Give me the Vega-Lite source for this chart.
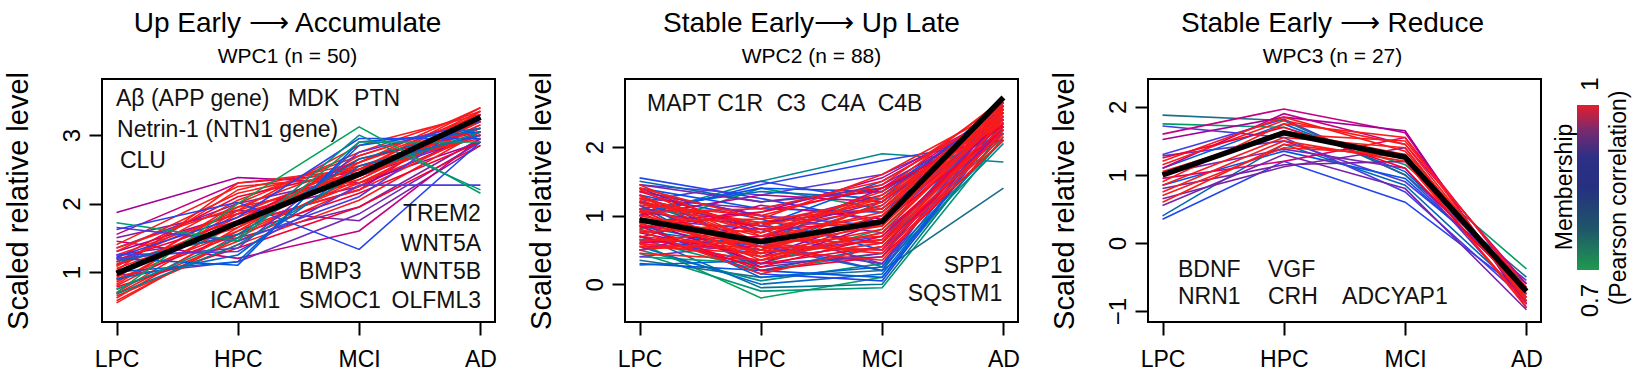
{
  "$schema": "https://vega.github.io/schema/vega-lite/v6.json",
  "background": "white",
  "padding": {"left": 2, "top": 8, "right": 0, "bottom": 0},
  "bounds": "flush",
  "spacing": 130,
  "config": {
    "font": "Liberation Sans",
    "view": {"stroke": "#000", "strokeWidth": 2},
    "axis": {"domain": false, "grid": false, "tickColor": "#000", "tickWidth": 2, "tickSize": 13, "labelColor": "#000", "labelFontSize": 23, "labelFont": "Liberation Sans", "titleFont": "Liberation Sans", "titleColor": "#000", "titleFontWeight": "normal", "labelOverlap": false},
    "title": {"font": "Liberation Sans", "fontSize": 28, "fontWeight": "normal", "color": "#000", "subtitleFont": "Liberation Sans", "subtitleFontSize": 21, "subtitleColor": "#000", "subtitlePadding": 8, "offset": 5, "anchor": "middle"}
  },
  "datasets": {
    "genes": [
      {"p":1,"g":"a29","m":0.91,"LPC":1.87,"HPC":2.38,"MCI":2.30,"AD":2.90},
      {"p":1,"g":"a30","m":0.90,"LPC":1.50,"HPC":1.90,"MCI":1.75,"AD":2.85},
      {"p":1,"g":"a31","m":0.92,"LPC":1.45,"HPC":1.20,"MCI":1.60,"AD":2.95},
      {"p":1,"g":"a32","m":0.89,"LPC":1.35,"HPC":2.00,"MCI":2.40,"AD":3.00},
      {"p":1,"g":"a33","m":0.93,"LPC":1.10,"HPC":1.70,"MCI":2.20,"AD":3.35},
      {"p":1,"g":"a34","m":0.90,"LPC":1.25,"HPC":1.50,"MCI":1.95,"AD":2.95},
      {"p":1,"g":"a35","m":0.92,"LPC":1.55,"HPC":2.30,"MCI":2.45,"AD":3.20},
      {"p":1,"g":"a36","m":0.88,"LPC":0.95,"HPC":1.15,"MCI":1.85,"AD":2.90},
      {"p":1,"g":"a37","m":0.91,"LPC":1.30,"HPC":1.85,"MCI":2.25,"AD":3.05},
      {"p":1,"g":"a1","m":0.99,"LPC":0.55,"HPC":1.55,"MCI":2.35,"AD":3.20},
      {"p":1,"g":"a2","m":0.98,"LPC":0.62,"HPC":1.65,"MCI":2.45,"AD":3.30},
      {"p":1,"g":"a3","m":0.97,"LPC":0.70,"HPC":1.75,"MCI":2.50,"AD":3.35},
      {"p":1,"g":"a4","m":0.99,"LPC":0.80,"HPC":1.70,"MCI":2.40,"AD":3.25},
      {"p":1,"g":"a5","m":0.96,"LPC":0.85,"HPC":1.85,"MCI":2.55,"AD":3.10},
      {"p":1,"g":"a6","m":0.98,"LPC":0.90,"HPC":1.60,"MCI":2.30,"AD":3.15},
      {"p":1,"g":"a7","m":0.97,"LPC":0.95,"HPC":1.95,"MCI":2.60,"AD":3.30},
      {"p":1,"g":"a8","m":0.99,"LPC":1.00,"HPC":1.80,"MCI":2.50,"AD":3.40},
      {"p":1,"g":"a9","m":0.96,"LPC":1.05,"HPC":1.70,"MCI":2.20,"AD":3.05},
      {"p":1,"g":"a10","m":0.98,"LPC":1.10,"HPC":2.05,"MCI":2.70,"AD":3.25},
      {"p":1,"g":"a11","m":0.97,"LPC":1.15,"HPC":1.90,"MCI":2.45,"AD":3.00},
      {"p":1,"g":"a12","m":0.95,"LPC":1.20,"HPC":2.10,"MCI":2.50,"AD":3.10},
      {"p":1,"g":"a13","m":0.99,"LPC":1.25,"HPC":1.85,"MCI":2.35,"AD":3.20},
      {"p":1,"g":"a14","m":0.96,"LPC":1.30,"HPC":2.15,"MCI":2.55,"AD":2.95},
      {"p":1,"g":"a15","m":0.98,"LPC":0.75,"HPC":1.45,"MCI":2.25,"AD":3.30},
      {"p":1,"g":"a16","m":0.97,"LPC":0.65,"HPC":1.40,"MCI":2.05,"AD":3.05},
      {"p":1,"g":"a17","m":0.95,"LPC":0.88,"HPC":1.55,"MCI":2.15,"AD":2.90},
      {"p":1,"g":"a18","m":0.99,"LPC":0.92,"HPC":2.00,"MCI":2.75,"AD":3.35},
      {"p":1,"g":"a19","m":0.96,"LPC":1.08,"HPC":2.20,"MCI":2.60,"AD":3.20},
      {"p":1,"g":"a20","m":0.98,"LPC":1.35,"HPC":1.95,"MCI":2.30,"AD":3.00},
      {"p":1,"g":"a21","m":0.97,"LPC":0.58,"HPC":1.50,"MCI":2.40,"AD":3.15},
      {"p":1,"g":"a22","m":0.95,"LPC":1.18,"HPC":1.75,"MCI":2.65,"AD":3.05},
      {"p":1,"g":"a23","m":0.99,"LPC":0.82,"HPC":1.90,"MCI":2.85,"AD":3.30},
      {"p":1,"g":"a24","m":0.96,"LPC":1.40,"HPC":2.25,"MCI":2.40,"AD":3.10},
      {"p":1,"g":"a25","m":0.98,"LPC":0.68,"HPC":1.60,"MCI":2.60,"AD":3.40},
      {"p":1,"g":"a26","m":0.97,"LPC":1.02,"HPC":2.30,"MCI":2.50,"AD":3.00},
      {"p":1,"g":"a27","m":0.95,"LPC":0.78,"HPC":1.35,"MCI":1.95,"AD":2.85},
      {"p":1,"g":"a28","m":0.99,"LPC":1.12,"HPC":1.65,"MCI":2.70,"AD":3.25},
      {"p":1,"g":"a38","m":0.84,"LPC":1.62,"HPC":2.02,"MCI":1.33,"AD":2.90},
      {"p":1,"g":"a39","m":0.83,"LPC":1.20,"HPC":1.10,"MCI":2.90,"AD":3.05},
      {"p":1,"g":"a40","m":0.85,"LPC":1.25,"HPC":1.30,"MCI":2.27,"AD":2.27},
      {"p":1,"g":"a41","m":0.82,"LPC":1.00,"HPC":1.15,"MCI":2.85,"AD":3.10},
      {"p":1,"g":"a42","m":0.86,"LPC":1.20,"HPC":1.35,"MCI":2.75,"AD":3.20},
      {"p":1,"g":"a43","m":0.81,"LPC":0.90,"HPC":1.25,"MCI":2.55,"AD":3.00},
      {"p":1,"g":"a44","m":0.84,"LPC":1.22,"HPC":1.80,"MCI":2.95,"AD":2.95},
      {"p":1,"g":"a45","m":0.80,"LPC":1.15,"HPC":1.55,"MCI":2.65,"AD":3.10},
      {"p":1,"g":"a46","m":0.85,"LPC":1.65,"HPC":1.45,"MCI":2.10,"AD":3.30},
      {"p":1,"g":"a47","m":0.72,"LPC":1.72,"HPC":1.46,"MCI":2.90,"AD":2.90},
      {"p":1,"g":"a48","m":0.71,"LPC":0.70,"HPC":2.00,"MCI":3.12,"AD":2.15},
      {"p":1,"g":"a49","m":0.74,"LPC":0.75,"HPC":1.50,"MCI":3.00,"AD":2.20},
      {"p":1,"g":"a50","m":0.76,"LPC":0.68,"HPC":1.40,"MCI":2.45,"AD":3.05},

      {"p":2,"g":"b77","m":0.71,"LPC":0.60,"HPC":-0.20,"MCI":0.10,"AD":2.20},
      {"p":2,"g":"b78","m":0.73,"LPC":0.45,"HPC":-0.10,"MCI":-0.05,"AD":2.15},
      {"p":2,"g":"b79","m":0.75,"LPC":1.00,"HPC":1.50,"MCI":1.90,"AD":1.78},
      {"p":2,"g":"b80","m":0.78,"LPC":0.35,"HPC":0.10,"MCI":0.20,"AD":1.40},
      {"p":2,"g":"b81","m":0.72,"LPC":0.80,"HPC":1.40,"MCI":1.10,"AD":2.30},
      {"p":2,"g":"b82","m":0.74,"LPC":0.50,"HPC":0.05,"MCI":0.30,"AD":2.10},
      {"p":2,"g":"b83","m":0.76,"LPC":1.20,"HPC":0.60,"MCI":1.40,"AD":2.35},
      {"p":2,"g":"b84","m":0.77,"LPC":0.70,"HPC":-0.05,"MCI":0.00,"AD":2.25},
      {"p":2,"g":"b85","m":0.72,"LPC":0.40,"HPC":0.30,"MCI":0.80,"AD":2.40},
      {"p":2,"g":"b86","m":0.75,"LPC":1.10,"HPC":0.90,"MCI":0.25,"AD":2.05},
      {"p":2,"g":"b87","m":0.79,"LPC":0.85,"HPC":0.50,"MCI":1.20,"AD":2.50},
      {"p":2,"g":"b88","m":0.73,"LPC":0.65,"HPC":0.20,"MCI":0.45,"AD":2.30},
      {"p":2,"g":"b54","m":0.84,"LPC":1.55,"HPC":1.25,"MCI":0.90,"AD":2.50},
      {"p":2,"g":"b55","m":0.83,"LPC":0.30,"HPC":0.20,"MCI":0.10,"AD":2.35},
      {"p":2,"g":"b56","m":0.85,"LPC":1.20,"HPC":1.50,"MCI":1.20,"AD":2.45},
      {"p":2,"g":"b57","m":0.82,"LPC":0.90,"HPC":0.10,"MCI":0.25,"AD":2.60},
      {"p":2,"g":"b58","m":0.86,"LPC":1.45,"HPC":1.30,"MCI":1.60,"AD":2.40},
      {"p":2,"g":"b59","m":0.81,"LPC":0.55,"HPC":0.00,"MCI":0.15,"AD":2.30},
      {"p":2,"g":"b60","m":0.84,"LPC":1.00,"HPC":1.45,"MCI":1.80,"AD":2.10},
      {"p":2,"g":"b61","m":0.83,"LPC":1.30,"HPC":0.95,"MCI":0.50,"AD":2.55},
      {"p":2,"g":"b62","m":0.85,"LPC":0.70,"HPC":0.30,"MCI":0.40,"AD":2.45},
      {"p":2,"g":"b63","m":0.80,"LPC":1.50,"HPC":1.20,"MCI":1.40,"AD":2.20},
      {"p":2,"g":"b64","m":0.86,"LPC":0.40,"HPC":0.60,"MCI":0.20,"AD":2.60},
      {"p":2,"g":"b65","m":0.82,"LPC":1.25,"HPC":0.85,"MCI":1.50,"AD":2.50},
      {"p":2,"g":"b66","m":0.84,"LPC":0.85,"HPC":0.15,"MCI":0.05,"AD":2.35},
      {"p":2,"g":"b67","m":0.81,"LPC":1.10,"HPC":1.35,"MCI":1.25,"AD":2.65},
      {"p":2,"g":"b68","m":0.85,"LPC":0.65,"HPC":0.45,"MCI":0.70,"AD":2.30},
      {"p":2,"g":"b69","m":0.83,"LPC":1.40,"HPC":1.10,"MCI":1.05,"AD":2.40},
      {"p":2,"g":"b70","m":0.82,"LPC":0.28,"HPC":0.35,"MCI":0.60,"AD":2.55},
      {"p":2,"g":"b71","m":0.86,"LPC":0.95,"HPC":0.80,"MCI":0.30,"AD":2.45},
      {"p":2,"g":"b72","m":0.80,"LPC":1.15,"HPC":0.20,"MCI":0.55,"AD":2.25},
      {"p":2,"g":"b73","m":0.84,"LPC":0.50,"HPC":0.70,"MCI":1.15,"AD":2.60},
      {"p":2,"g":"b74","m":0.85,"LPC":1.35,"HPC":1.00,"MCI":0.85,"AD":2.50},
      {"p":2,"g":"b75","m":0.81,"LPC":0.78,"HPC":0.55,"MCI":0.20,"AD":2.35},
      {"p":2,"g":"b76","m":0.83,"LPC":1.05,"HPC":1.40,"MCI":1.35,"AD":2.55},
      {"p":2,"g":"b36","m":0.92,"LPC":1.00,"HPC":1.30,"MCI":1.20,"AD":2.55},
      {"p":2,"g":"b37","m":0.90,"LPC":1.20,"HPC":0.85,"MCI":0.60,"AD":2.45},
      {"p":2,"g":"b38","m":0.91,"LPC":0.75,"HPC":0.40,"MCI":1.00,"AD":2.60},
      {"p":2,"g":"b39","m":0.89,"LPC":1.45,"HPC":1.20,"MCI":1.35,"AD":2.40},
      {"p":2,"g":"b40","m":0.93,"LPC":0.60,"HPC":0.70,"MCI":0.85,"AD":2.65},
      {"p":2,"g":"b41","m":0.88,"LPC":1.30,"HPC":0.55,"MCI":0.30,"AD":2.35},
      {"p":2,"g":"b42","m":0.92,"LPC":0.90,"HPC":1.05,"MCI":1.55,"AD":2.50},
      {"p":2,"g":"b43","m":0.90,"LPC":1.10,"HPC":0.25,"MCI":0.45,"AD":2.30},
      {"p":2,"g":"b44","m":0.91,"LPC":0.50,"HPC":0.90,"MCI":1.10,"AD":2.60},
      {"p":2,"g":"b45","m":0.89,"LPC":1.35,"HPC":1.00,"MCI":0.75,"AD":2.20},
      {"p":2,"g":"b46","m":0.93,"LPC":0.85,"HPC":0.65,"MCI":1.40,"AD":2.55},
      {"p":2,"g":"b47","m":0.88,"LPC":1.15,"HPC":0.45,"MCI":0.65,"AD":2.45},
      {"p":2,"g":"b48","m":0.92,"LPC":0.68,"HPC":1.15,"MCI":0.95,"AD":2.35},
      {"p":2,"g":"b49","m":0.90,"LPC":1.40,"HPC":0.75,"MCI":1.20,"AD":2.50},
      {"p":2,"g":"b50","m":0.91,"LPC":0.95,"HPC":0.30,"MCI":0.90,"AD":2.65},
      {"p":2,"g":"b51","m":0.89,"LPC":1.25,"HPC":1.10,"MCI":1.45,"AD":2.40},
      {"p":2,"g":"b52","m":0.93,"LPC":0.55,"HPC":0.55,"MCI":0.50,"AD":2.25},
      {"p":2,"g":"b53","m":0.90,"LPC":1.05,"HPC":0.85,"MCI":1.30,"AD":2.55},
      {"p":2,"g":"b1","m":0.99,"LPC":0.95,"HPC":0.55,"MCI":0.85,"AD":2.65},
      {"p":2,"g":"b2","m":0.98,"LPC":1.10,"HPC":0.70,"MCI":1.00,"AD":2.55},
      {"p":2,"g":"b3","m":0.97,"LPC":0.80,"HPC":0.40,"MCI":0.75,"AD":2.45},
      {"p":2,"g":"b4","m":0.99,"LPC":1.25,"HPC":0.85,"MCI":1.20,"AD":2.60},
      {"p":2,"g":"b5","m":0.96,"LPC":0.60,"HPC":0.35,"MCI":0.60,"AD":2.30},
      {"p":2,"g":"b6","m":0.98,"LPC":1.40,"HPC":0.95,"MCI":1.10,"AD":2.50},
      {"p":2,"g":"b7","m":0.97,"LPC":0.70,"HPC":0.50,"MCI":0.95,"AD":2.40},
      {"p":2,"g":"b8","m":0.95,"LPC":1.05,"HPC":0.30,"MCI":0.55,"AD":2.20},
      {"p":2,"g":"b9","m":0.99,"LPC":0.90,"HPC":0.75,"MCI":1.35,"AD":2.70},
      {"p":2,"g":"b10","m":0.96,"LPC":1.30,"HPC":0.60,"MCI":0.70,"AD":2.35},
      {"p":2,"g":"b11","m":0.98,"LPC":0.55,"HPC":0.45,"MCI":0.80,"AD":2.50},
      {"p":2,"g":"b12","m":0.97,"LPC":1.15,"HPC":1.00,"MCI":1.45,"AD":2.65},
      {"p":2,"g":"b13","m":0.95,"LPC":0.85,"HPC":0.20,"MCI":0.40,"AD":2.10},
      {"p":2,"g":"b14","m":0.99,"LPC":1.00,"HPC":0.65,"MCI":1.05,"AD":2.60},
      {"p":2,"g":"b15","m":0.96,"LPC":0.75,"HPC":0.90,"MCI":1.25,"AD":2.45},
      {"p":2,"g":"b16","m":0.98,"LPC":1.20,"HPC":0.40,"MCI":0.65,"AD":2.30},
      {"p":2,"g":"b17","m":0.97,"LPC":0.65,"HPC":0.60,"MCI":1.15,"AD":2.55},
      {"p":2,"g":"b18","m":0.95,"LPC":1.35,"HPC":0.80,"MCI":0.90,"AD":2.25},
      {"p":2,"g":"b19","m":0.99,"LPC":0.45,"HPC":0.35,"MCI":0.95,"AD":2.65},
      {"p":2,"g":"b20","m":0.96,"LPC":1.05,"HPC":1.10,"MCI":1.50,"AD":2.50},
      {"p":2,"g":"b21","m":0.98,"LPC":0.88,"HPC":0.55,"MCI":0.50,"AD":2.15},
      {"p":2,"g":"b22","m":0.97,"LPC":1.45,"HPC":0.70,"MCI":1.30,"AD":2.40},
      {"p":2,"g":"b23","m":0.95,"LPC":0.70,"HPC":0.25,"MCI":0.70,"AD":2.35},
      {"p":2,"g":"b24","m":0.99,"LPC":1.18,"HPC":0.90,"MCI":0.85,"AD":2.55},
      {"p":2,"g":"b25","m":0.96,"LPC":0.95,"HPC":0.45,"MCI":1.20,"AD":2.60},
      {"p":2,"g":"b26","m":0.98,"LPC":0.50,"HPC":0.65,"MCI":0.60,"AD":2.20},
      {"p":2,"g":"b27","m":0.97,"LPC":1.28,"HPC":0.50,"MCI":1.00,"AD":2.45},
      {"p":2,"g":"b28","m":0.95,"LPC":0.82,"HPC":1.05,"MCI":1.40,"AD":2.30},
      {"p":2,"g":"b29","m":0.99,"LPC":1.08,"HPC":0.35,"MCI":0.75,"AD":2.50},
      {"p":2,"g":"b30","m":0.96,"LPC":0.62,"HPC":0.80,"MCI":1.10,"AD":2.65},
      {"p":2,"g":"b31","m":0.98,"LPC":1.38,"HPC":0.60,"MCI":0.45,"AD":2.10},
      {"p":2,"g":"b32","m":0.97,"LPC":0.92,"HPC":0.95,"MCI":1.60,"AD":2.55},
      {"p":2,"g":"b33","m":0.96,"LPC":0.78,"HPC":0.15,"MCI":0.55,"AD":2.40},
      {"p":2,"g":"b34","m":0.98,"LPC":1.22,"HPC":0.75,"MCI":1.25,"AD":2.35},
      {"p":2,"g":"b35","m":0.97,"LPC":0.58,"HPC":0.50,"MCI":0.35,"AD":2.25},

      {"p":3,"g":"c18","m":0.85,"LPC":1.30,"HPC":1.82,"MCI":1.00,"AD":-0.70},
      {"p":3,"g":"c19","m":0.84,"LPC":0.35,"HPC":1.20,"MCI":0.60,"AD":-0.75},
      {"p":3,"g":"c20","m":0.86,"LPC":1.28,"HPC":1.50,"MCI":0.90,"AD":-0.55},
      {"p":3,"g":"c21","m":0.83,"LPC":0.85,"HPC":1.35,"MCI":0.95,"AD":-0.65},
      {"p":3,"g":"c22","m":0.82,"LPC":1.10,"HPC":1.75,"MCI":1.05,"AD":-0.60},
      {"p":3,"g":"c23","m":0.80,"LPC":0.40,"HPC":1.45,"MCI":0.85,"AD":-0.80},
      {"p":3,"g":"c24","m":0.78,"LPC":1.88,"HPC":1.80,"MCI":1.00,"AD":-0.50},
      {"p":3,"g":"c25","m":0.72,"LPC":1.75,"HPC":1.70,"MCI":1.15,"AD":-0.38},
      {"p":3,"g":"c26","m":0.85,"LPC":1.72,"HPC":1.55,"MCI":0.75,"AD":-0.85},
      {"p":3,"g":"c27","m":0.88,"LPC":1.02,"HPC":1.38,"MCI":1.10,"AD":-0.88},
      {"p":3,"g":"c11","m":0.92,"LPC":1.60,"HPC":1.97,"MCI":1.62,"AD":-0.90},
      {"p":3,"g":"c12","m":0.91,"LPC":1.52,"HPC":1.85,"MCI":1.65,"AD":-0.95},
      {"p":3,"g":"c13","m":0.90,"LPC":0.65,"HPC":1.12,"MCI":1.40,"AD":-0.85},
      {"p":3,"g":"c14","m":0.93,"LPC":0.95,"HPC":1.20,"MCI":1.55,"AD":-0.70},
      {"p":3,"g":"c15","m":0.89,"LPC":0.55,"HPC":1.30,"MCI":0.80,"AD":-0.98},
      {"p":3,"g":"c16","m":0.92,"LPC":1.10,"HPC":1.90,"MCI":1.45,"AD":-0.60},
      {"p":3,"g":"c17","m":0.90,"LPC":0.80,"HPC":1.15,"MCI":1.20,"AD":-0.75},
      {"p":3,"g":"c1","m":0.99,"LPC":1.00,"HPC":1.65,"MCI":1.30,"AD":-0.75},
      {"p":3,"g":"c2","m":0.98,"LPC":1.15,"HPC":1.80,"MCI":1.45,"AD":-0.80},
      {"p":3,"g":"c3","m":0.97,"LPC":0.85,"HPC":1.55,"MCI":1.40,"AD":-0.85},
      {"p":3,"g":"c4","m":0.99,"LPC":1.20,"HPC":1.85,"MCI":1.35,"AD":-0.70},
      {"p":3,"g":"c5","m":0.96,"LPC":0.75,"HPC":1.50,"MCI":1.20,"AD":-0.90},
      {"p":3,"g":"c6","m":0.98,"LPC":1.05,"HPC":1.60,"MCI":1.50,"AD":-0.65},
      {"p":3,"g":"c7","m":0.97,"LPC":0.60,"HPC":1.45,"MCI":1.25,"AD":-0.95},
      {"p":3,"g":"c8","m":0.95,"LPC":1.25,"HPC":1.70,"MCI":1.10,"AD":-0.75},
      {"p":3,"g":"c9","m":0.99,"LPC":0.90,"HPC":1.75,"MCI":1.55,"AD":-0.85},
      {"p":3,"g":"c10","m":0.96,"LPC":0.70,"HPC":1.40,"MCI":1.30,"AD":-0.80}
    ],
    "means": [
      {"p":1,"LPC":0.98,"HPC":1.72,"MCI":2.43,"AD":3.26},
      {"p":2,"LPC":0.94,"HPC":0.62,"MCI":0.91,"AD":2.72},
      {"p":3,"LPC":1.00,"HPC":1.62,"MCI":1.26,"AD":-0.71}
    ],
    "labels": [
      {"p":1,"t":"Aβ (APP gene)","x":0.995,"v":3.53},
      {"p":1,"t":"MDK","x":2.413,"v":3.53},
      {"p":1,"t":"PTN","x":2.958,"v":3.53},
      {"p":1,"t":"Netrin-1 (NTN1 gene)","x":1.004,"v":3.075},
      {"p":1,"t":"CLU","x":1.028,"v":2.62},
      {"p":1,"t":"TREM2","x":3.361,"v":1.85},
      {"p":1,"t":"WNT5A","x":3.341,"v":1.41},
      {"p":1,"t":"WNT5B","x":3.341,"v":1.0},
      {"p":1,"t":"BMP3","x":2.504,"v":1.0},
      {"p":1,"t":"ICAM1","x":1.77,"v":0.58},
      {"p":1,"t":"SMOC1","x":2.504,"v":0.58},
      {"p":1,"t":"OLFML3","x":3.267,"v":0.58},
      {"p":2,"t":"MAPT","x":1.062,"v":2.625},
      {"p":2,"t":"C1R","x":1.64,"v":2.625},
      {"p":2,"t":"C3","x":2.128,"v":2.625},
      {"p":2,"t":"C4A","x":2.492,"v":2.625},
      {"p":2,"t":"C4B","x":2.963,"v":2.625},
      {"p":2,"t":"SPP1","x":3.508,"v":0.26},
      {"p":2,"t":"SQSTM1","x":3.211,"v":-0.149},
      {"p":3,"t":"BDNF","x":1.127,"v":-0.40},
      {"p":3,"t":"VGF","x":1.869,"v":-0.40},
      {"p":3,"t":"NRN1","x":1.127,"v":-0.796},
      {"p":3,"t":"CRH","x":1.869,"v":-0.796},
      {"p":3,"t":"ADCYAP1","x":2.48,"v":-0.796}
    ]
  },
  "hconcat": [
    {
      "width": 393, "height": 243,
      "title": {"text": "Up Early ⟶ Accumulate", "subtitle": "WPC1 (n = 50)", "dx": -11},
      "resolve": {"scale": {"x": "independent"}},
      "layer": [
        {
          "data": {"name": "genes"},
          "transform": [{"filter": "datum.p == 1"}, {"fold": ["LPC", "HPC", "MCI", "AD"], "as": ["stage", "v"]}],
          "mark": {"type": "line", "strokeWidth": 1.6},
          "encoding": {
            "x": {"field": "stage", "type": "ordinal", "sort": ["LPC", "HPC", "MCI", "AD"], "scale": {"type": "point", "padding": 0.12}, "axis": {"title": null, "labelAngle": 0, "labelPadding": 13}},
            "y": {"field": "v", "type": "quantitative", "scale": {"domain": [0.27, 3.82], "nice": false, "zero": false}, "axis": {"title": "Scaled relative level", "values": [1, 2, 3], "format": "d", "labelAngle": -90, "labelAlign": "center", "labelBaseline": "alphabetic", "labelPadding": 10, "labelFontSize": 24, "titleAngle": -90, "titleX": -75, "titleY": 121.5, "titleAlign": "center", "titleBaseline": "alphabetic", "titleFontSize": 29}},
            "color": {"field": "m", "type": "quantitative", "scale": {"domain": [0.7, 0.78, 0.84, 0.9, 0.955], "range": ["#1fa845", "#1a6e8a", "#2244f0", "#7a22a0", "#f81c1c"], "clamp": true}, "legend": null},
            "detail": {"field": "g"},
            "order": {"value": null}
          }
        },
        {
          "data": {"name": "means"},
          "transform": [{"filter": "datum.p == 1"}, {"fold": ["LPC", "HPC", "MCI", "AD"], "as": ["stage", "v"]}],
          "mark": {"type": "line", "strokeWidth": 5.5, "color": "#000"},
          "encoding": {
            "x": {"field": "stage", "type": "ordinal", "sort": ["LPC", "HPC", "MCI", "AD"], "scale": {"type": "point", "padding": 0.12}, "axis": null},
            "y": {"field": "v", "type": "quantitative", "scale": {"domain": [0.27, 3.82], "nice": false, "zero": false}},
            "order": {"value": null}
          }
        },
        {
          "data": {"name": "labels"},
          "transform": [{"filter": "datum.p == 1"}],
          "mark": {"type": "text", "align": "left", "baseline": "middle", "fontSize": 23, "color": "#111"},
          "encoding": {
            "x": {"field": "x", "type": "quantitative", "scale": {"domain": [0.88, 4.12], "nice": false, "zero": false}, "axis": null},
            "y": {"field": "v", "type": "quantitative", "scale": {"domain": [0.27, 3.82], "nice": false, "zero": false}},
            "text": {"field": "t"}
          }
        }
      ]
    },
    {
      "width": 393, "height": 243,
      "title": {"text": "Stable Early⟶ Up Late", "subtitle": "WPC2 (n = 88)", "dx": -10},
      "resolve": {"scale": {"x": "independent"}},
      "layer": [
        {
          "data": {"name": "genes"},
          "transform": [{"filter": "datum.p == 2"}, {"fold": ["LPC", "HPC", "MCI", "AD"], "as": ["stage", "v"]}],
          "mark": {"type": "line", "strokeWidth": 1.6},
          "encoding": {
            "x": {"field": "stage", "type": "ordinal", "sort": ["LPC", "HPC", "MCI", "AD"], "scale": {"type": "point", "padding": 0.12}, "axis": {"title": null, "labelAngle": 0, "labelPadding": 13}},
            "y": {"field": "v", "type": "quantitative", "scale": {"domain": [-0.55, 2.99], "nice": false, "zero": false}, "axis": {"title": "Scaled relative level", "values": [0, 1, 2], "format": "d", "labelAngle": -90, "labelAlign": "center", "labelBaseline": "alphabetic", "labelPadding": 10, "labelFontSize": 24, "titleAngle": -90, "titleX": -75, "titleY": 121.5, "titleAlign": "center", "titleBaseline": "alphabetic", "titleFontSize": 29}},
            "color": {"field": "m", "type": "quantitative", "scale": {"domain": [0.7, 0.78, 0.84, 0.9, 0.955], "range": ["#1fa845", "#1a6e8a", "#2244f0", "#7a22a0", "#f81c1c"], "clamp": true}, "legend": null},
            "detail": {"field": "g"},
            "order": {"value": null}
          }
        },
        {
          "data": {"name": "means"},
          "transform": [{"filter": "datum.p == 2"}, {"fold": ["LPC", "HPC", "MCI", "AD"], "as": ["stage", "v"]}],
          "mark": {"type": "line", "strokeWidth": 5.5, "color": "#000"},
          "encoding": {
            "x": {"field": "stage", "type": "ordinal", "sort": ["LPC", "HPC", "MCI", "AD"], "scale": {"type": "point", "padding": 0.12}, "axis": null},
            "y": {"field": "v", "type": "quantitative", "scale": {"domain": [-0.55, 2.99], "nice": false, "zero": false}},
            "order": {"value": null}
          }
        },
        {
          "data": {"name": "labels"},
          "transform": [{"filter": "datum.p == 2"}],
          "mark": {"type": "text", "align": "left", "baseline": "middle", "fontSize": 23, "color": "#111"},
          "encoding": {
            "x": {"field": "x", "type": "quantitative", "scale": {"domain": [0.88, 4.12], "nice": false, "zero": false}, "axis": null},
            "y": {"field": "v", "type": "quantitative", "scale": {"domain": [-0.55, 2.99], "nice": false, "zero": false}},
            "text": {"field": "t"}
          }
        }
      ]
    },
    {
      "bounds": "flush",
      "spacing": 0,
      "hconcat": [
        {
          "width": 393, "height": 243,
          "title": {"text": "Stable Early ⟶ Reduce", "subtitle": "WPC3 (n = 27)", "dx": -12},
          "resolve": {"scale": {"x": "independent"}},
          "layer": [
            {
              "data": {"name": "genes"},
              "transform": [{"filter": "datum.p == 3"}, {"fold": ["LPC", "HPC", "MCI", "AD"], "as": ["stage", "v"]}],
              "mark": {"type": "line", "strokeWidth": 1.6},
              "encoding": {
                "x": {"field": "stage", "type": "ordinal", "sort": ["LPC", "HPC", "MCI", "AD"], "scale": {"type": "point", "padding": 0.12}, "axis": {"title": null, "labelAngle": 0, "labelPadding": 13}},
                "y": {"field": "v", "type": "quantitative", "scale": {"domain": [-1.16, 2.41], "nice": false, "zero": false}, "axis": {"title": "Scaled relative level", "values": [-1, 0, 1, 2], "format": "d", "labelAngle": -90, "labelAlign": "center", "labelBaseline": "alphabetic", "labelPadding": 10, "labelFontSize": 24, "titleAngle": -90, "titleX": -75, "titleY": 121.5, "titleAlign": "center", "titleBaseline": "alphabetic", "titleFontSize": 29}},
                "color": {"field": "m", "type": "quantitative", "scale": {"domain": [0.7, 0.78, 0.84, 0.9, 0.955], "range": ["#1fa845", "#1a6e8a", "#2244f0", "#7a22a0", "#f81c1c"], "clamp": true}, "legend": null},
                "detail": {"field": "g"},
                "order": {"value": null}
              }
            },
            {
              "data": {"name": "means"},
              "transform": [{"filter": "datum.p == 3"}, {"fold": ["LPC", "HPC", "MCI", "AD"], "as": ["stage", "v"]}],
              "mark": {"type": "line", "strokeWidth": 5.5, "color": "#000"},
              "encoding": {
                "x": {"field": "stage", "type": "ordinal", "sort": ["LPC", "HPC", "MCI", "AD"], "scale": {"type": "point", "padding": 0.12}, "axis": null},
                "y": {"field": "v", "type": "quantitative", "scale": {"domain": [-1.16, 2.41], "nice": false, "zero": false}},
                "order": {"value": null}
              }
            },
            {
              "data": {"name": "labels"},
              "transform": [{"filter": "datum.p == 3"}],
              "mark": {"type": "text", "align": "left", "baseline": "middle", "fontSize": 23, "color": "#111"},
              "encoding": {
                "x": {"field": "x", "type": "quantitative", "scale": {"domain": [0.88, 4.12], "nice": false, "zero": false}, "axis": null},
                "y": {"field": "v", "type": "quantitative", "scale": {"domain": [-1.16, 2.41], "nice": false, "zero": false}},
                "text": {"field": "t"}
              }
            }
          ]
        },
        {
          "width": 100, "height": 243,
          "view": {"stroke": null},
          "data": {"values": [{"lo": 0.7, "hi": 1.0}]},
          "layer": [
            {
              "mark": {"type": "rect", "color": {"gradient": "linear", "x1": 0, "y1": 1, "x2": 0, "y2": 0, "stops": [
                {"offset": 0, "color": "#1f9a50"},
                {"offset": 0.25, "color": "#1f556a"},
                {"offset": 0.5, "color": "#263080"},
                {"offset": 0.68, "color": "#2c2f86"},
                {"offset": 0.85, "color": "#7a2a6e"},
                {"offset": 1, "color": "#e41e2c"}
              ]}},
              "encoding": {
                "x": {"datum": 36, "type": "quantitative", "scale": {"domain": [0, 100], "nice": false, "zero": false}, "axis": null},
                "x2": {"datum": 58},
                "y": {"field": "lo", "type": "quantitative", "scale": {"domain": [0.6055, 1.0473], "nice": false, "zero": false}, "axis": null},
                "y2": {"field": "hi"}
              }
            },
            {
              "mark": {"type": "text", "text": "1", "angle": 270, "align": "center", "baseline": "alphabetic", "fontSize": 24, "color": "#000"},
              "encoding": {"x": {"datum": 57, "type": "quantitative"}, "y": {"datum": 1.038, "type": "quantitative"}}
            },
            {
              "mark": {"type": "text", "text": "0.7", "angle": 270, "align": "center", "baseline": "alphabetic", "fontSize": 24, "color": "#000"},
              "encoding": {"x": {"datum": 57, "type": "quantitative"}, "y": {"datum": 0.6445, "type": "quantitative"}}
            },
            {
              "mark": {"type": "text", "text": "Membership", "angle": 270, "align": "center", "baseline": "alphabetic", "fontSize": 23, "color": "#000"},
              "encoding": {"x": {"datum": 31, "type": "quantitative"}, "y": {"datum": 0.851, "type": "quantitative"}}
            },
            {
              "mark": {"type": "text", "text": "(Pearson correlation)", "angle": 270, "align": "center", "baseline": "alphabetic", "fontSize": 23, "color": "#000"},
              "encoding": {"x": {"datum": 85, "type": "quantitative"}, "y": {"datum": 0.831, "type": "quantitative"}}
            }
          ]
        }
      ]
    }
  ]
}
